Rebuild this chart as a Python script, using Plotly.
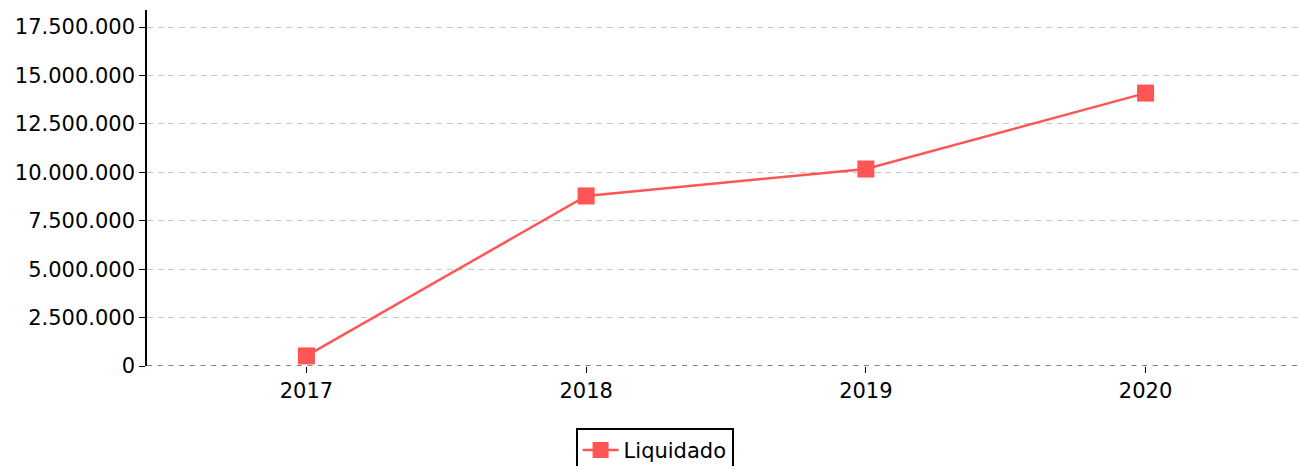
import plotly.graph_objects as go

# data
years = [2017, 2018, 2019, 2020]
liquidado = [520000, 8780000, 10170000, 14090000]
series_name = "Liquidado"

fig = go.Figure()
fig.add_trace(go.Scatter(
    x=years,
    y=liquidado,
    name=series_name,
    mode="lines+markers",
    line=dict(color="#ff5555", width=2.5),
    marker=dict(symbol="square", size=17, color="#ff5555"),
    cliponaxis=False,
))

# dashed black baseline at zero
fig.add_shape(type="line", xref="paper", x0=0, x1=1, yref="y", y0=0, y1=0,
              line=dict(color="black", width=1.2, dash="5px,5.7px"), layer="above")

fig.update_layout(
    width=1298, height=466,
    margin=dict(l=147, r=0, t=10, b=100, autoexpand=False),
    plot_bgcolor="white", paper_bgcolor="white",
    separators=",.",
    font=dict(family="DejaVu Sans", size=21, color="black"),
    showlegend=True,
    legend=dict(
        orientation="h", x=0.441, xanchor="center", y=-0.174, yanchor="top",
        bordercolor="black", borderwidth=2, font=dict(size=21), itemwidth=36,
    ),
    xaxis=dict(
        range=[2016.43, 2020.545], tickvals=years, ticktext=[str(y) for y in years],
        showgrid=False, zeroline=False, showline=False,
        ticks="outside", ticklen=6, tickcolor="black",
    ),
    yaxis=dict(
        range=[0, 18380000], dtick=2500000, tickformat=",d",
        showgrid=True, gridcolor="#c8c8c8", griddash="6px,4.7px", gridwidth=1.2,
        zeroline=False, showline=True, linecolor="black", linewidth=1.5,
        ticks="outside", ticklen=6, tickcolor="black",
    ),
)

# drop the default page margin and scrollbars so the figure fills the window
page_js = (
    "document.body.style.margin='0';"
    "document.body.style.overflow='hidden';"
    "document.documentElement.style.overflow='hidden';"
)
fig.write_html("out.html", config={"displayModeBar": False}, post_script=page_js)
